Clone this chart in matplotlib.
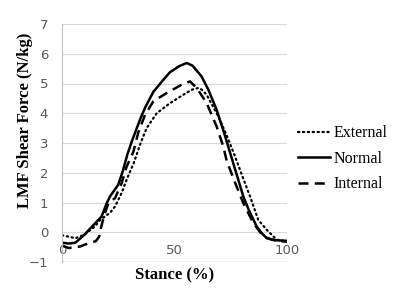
import matplotlib
matplotlib.use("Agg")
import matplotlib.pyplot as plt

# Data
ext_x = [0, 3, 6, 10, 14.7, 17, 21.3, 23.6, 26.5, 28.7, 32, 34.7, 37.6, 42.1, 48, 53.9,
         57.6, 60.6, 62, 64.3, 69.5, 73.5, 76.9, 79.1, 83.6, 87.2, 91, 95.4, 100]
ext_y = [-0.1, -0.15, -0.2, -0.08, 0.2, 0.42, 0.65, 0.87, 1.32, 1.76, 2.35, 2.95, 3.5, 4.0,
         4.34, 4.62, 4.79, 4.85, 4.8, 4.62, 3.89, 3.2, 2.55, 2.1, 1.2, 0.42, 0.08, -0.25, -0.3]

nor_x = [0, 3, 6, 10, 14.7, 17.6, 19.9, 21.3, 25, 27, 29, 31, 33, 35, 37, 40.6, 45, 48, 52,
         55.4, 58, 62, 65, 68.7, 72, 75, 78, 80.6, 83, 86.5, 89, 91, 95, 100]
nor_y = [-0.35, -0.38, -0.35, -0.08, 0.3, 0.53, 0.98, 1.2, 1.6, 2.05, 2.6, 3.05, 3.45, 3.85,
         4.2, 4.72, 5.12, 5.38, 5.58, 5.69, 5.6, 5.24, 4.8, 4.12, 3.35, 2.6, 1.85, 1.2, 0.75,
         0.2, -0.05, -0.2, -0.27, -0.29]

int_x = [0, 3, 6, 8, 10, 12.5, 15, 16.5, 17, 18.5, 20.6, 23.6, 26.5, 28.7, 31.7, 33.9, 36.9,
         40.6, 46.5, 53.2, 56.9, 59.9, 64.3, 68.7, 71.7, 73.2, 77, 80.6, 85, 89.5, 93.2, 97, 100]
int_y = [-0.45, -0.53, -0.5, -0.48, -0.42, -0.36, -0.3, -0.15, 0.05, 0.5, 0.98, 1.15, 1.65,
         2.2, 2.7, 3.35, 3.95, 4.4, 4.68, 4.96, 5.07, 4.85, 4.34, 3.56, 2.88, 2.4, 1.65, 0.98,
         0.31, -0.14, -0.25, -0.3, -0.32]

series_names = ["External", "Normal", "Internal"]
x_ticks = [0, 50, 100]
y_ticks = [-1, 0, 1, 2, 3, 4, 5, 6, 7]

fig = plt.figure(figsize=(4.03, 2.98), dpi=100)
ax = fig.add_axes([62/403, 1-262/298, 225/403, 238/298])

ax.plot(ext_x, ext_y, color="black", lw=1.6, linestyle=(0, (0.6, 1.6)),
        dash_capstyle="round", label=series_names[0])
ax.plot(nor_x, nor_y, color="black", lw=1.8, linestyle="-", label=series_names[1])
ax.plot(int_x, int_y, color="black", lw=1.8, linestyle=(0, (4, 2.5)), label=series_names[2])

ax.set_xlim(0, 100)
ax.set_ylim(-1, 7)
ax.set_yticks(y_ticks)
ax.set_xticks(x_ticks)
ax.grid(axis="y", color="#d9d9d9", lw=0.8)
ax.set_axisbelow(True)
for s in ["top", "right"]:
    ax.spines[s].set_visible(False)
ax.spines["left"].set_color("#bfbfbf")
ax.spines["bottom"].set_visible(False)
ax.axhline(-1, color="#bfbfbf", lw=1.0, zorder=0)
ax.tick_params(axis="both", length=0, labelsize=9.5, labelcolor="#595959")
ax.tick_params(axis="y", pad=10)
ax.tick_params(axis="x", pad=-13)
for lab in ax.get_xticklabels() + ax.get_yticklabels():
    lab.set_family("DejaVu Sans")

fig.text(175/403, 1-275/298, "Stance (%)", ha="center", va="center",
         family="Liberation Serif", fontweight="bold", fontsize=12)
fig.text(25/403, 1-120/298, "LMF Shear Force (N/kg)", ha="center", va="center",
         rotation=90, family="Liberation Serif", fontweight="bold", fontsize=12)

leg = ax.legend(loc="center left", bbox_to_anchor=(1.0, 0.434), frameon=False,
                prop={"family": "Liberation Serif", "size": 11.5},
                handlelength=2.0, handletextpad=0.2, labelspacing=0.6, borderaxespad=0.3)

fig.savefig("out.png", dpi=100)
